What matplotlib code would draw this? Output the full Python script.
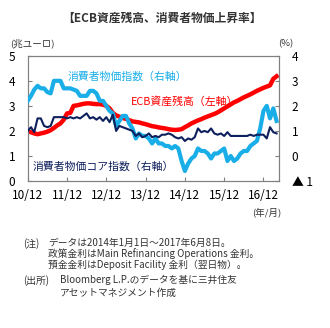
import matplotlib
matplotlib.use("Agg")
from matplotlib import pyplot as plt
import numpy as np

plt.rcParams['font.family'] = ['Noto Sans CJK JP', 'DejaVu Sans']

# 月次 (0 = 2011年1月)
ecb = [1.98, 1.95, 1.90, 1.87, 1.90, 1.93, 1.97, 2.03, 2.12, 2.22, 2.30, 2.45,
       2.70, 2.72, 3.00, 3.02, 3.05, 3.08, 3.10, 3.10, 3.08, 3.07, 3.07, 3.05,
       3.00, 2.90, 2.72, 2.62, 2.57, 2.52, 2.48, 2.43, 2.38, 2.36, 2.34, 2.30,
       2.27, 2.23, 2.19, 2.17, 2.14, 2.12, 2.10, 2.07, 2.05, 2.04, 2.05, 2.07,
       2.15, 2.22, 2.30, 2.36, 2.42, 2.47, 2.53, 2.58, 2.63, 2.68, 2.74, 2.82,
       2.90, 2.98, 3.06, 3.14, 3.20, 3.27, 3.34, 3.40, 3.46, 3.53, 3.60, 3.66,
       3.72, 3.77, 3.82, 4.08, 4.18]
cpi = [2.2, 2.4, 2.65, 2.8, 2.7, 2.7, 2.55, 2.5, 3.0, 3.0, 3.0, 2.7,
       2.7, 2.7, 2.65, 2.6, 2.4, 2.4, 2.4, 2.6, 2.6, 2.5, 2.2, 2.2,
       2.0, 1.8, 1.7, 1.2, 1.4, 1.6, 1.6, 1.3, 1.1, 0.7, 0.9, 0.8,
       0.8, 0.7, 0.5, 0.7, 0.5, 0.5, 0.4, 0.4, 0.3, 0.4, 0.3, -0.2,
       -0.6, -0.3, -0.1, 0.0, 0.3, 0.2, 0.2, 0.1, -0.1, 0.1, 0.1, 0.2,
       0.3, -0.2, 0.0, -0.2, -0.1, 0.1, 0.2, 0.2, 0.4, 0.5, 0.6, 1.1,
       1.8, 2.0, 1.5, 1.9, 1.4]
core = [1.0, 1.15, 0.95, 1.5, 1.5, 1.2, 1.15, 1.2, 1.55, 1.55, 1.55, 1.55,
        1.5, 1.55, 1.5, 1.55, 1.5, 1.6, 1.7, 1.5, 1.55, 1.45, 1.55, 1.4,
        1.55, 1.35, 1.65, 1.0, 1.2, 1.15, 1.1, 1.05, 1.0, 0.8, 0.9, 0.75,
        0.8, 0.9, 0.75, 0.8, 0.75, 0.85, 0.85, 0.9, 0.85, 0.75, 0.7, 0.75,
        0.6, 0.7, 0.65, 0.75, 1.1, 0.95, 1.0, 0.95, 1.1, 0.9, 0.85, 0.9,
        0.8, 0.95, 0.8, 0.8, 0.8, 0.8, 0.8, 0.8, 0.85, 0.8, 0.85, 0.85,
        0.85, 0.7, 1.15, 0.95, 0.9]
months = np.arange(len(ecb))

xtick_pos = [0, 12, 24, 36, 48, 60, 72]
xtick_labels = ['10/12', '11/12', '12/12', '13/12', '14/12', '15/12', '16/12']
left_ticks = [0, 1, 2, 3, 4, 5]
right_ticks = [-1, 0, 1, 2, 3, 4]
right_labels = ['▲ 1', '0', '1', '2', '3', '4']

fig = plt.figure(figsize=(3.30, 3.28), dpi=100)
ax = fig.add_axes([0.084, 0.448, 0.762, 0.382])
ax2 = ax.twinx()

ax.plot(months, ecb, color='#ff0000', lw=3.2, zorder=3)
ax2.plot(months, cpi, color='#1aaee8', lw=3.0, zorder=3)
ax2.plot(months, core, color='#0d1f5c', lw=1.5, zorder=4)

ax.set_xlim(0, 76.8)
ax.set_ylim(0, 5)
ax2.set_ylim(-1, 4)
ax.set_xticks(xtick_pos)
ax.set_xticklabels(xtick_labels, fontsize=8.5)
ax.set_yticks(left_ticks)
ax.set_yticklabels([str(v) for v in left_ticks], fontsize=8.5)
ax2.set_yticks(right_ticks)
ax2.set_yticklabels(right_labels, fontsize=8.5)

for a in (ax, ax2):
    for s in a.spines.values():
        s.set_color('#808080')
        s.set_linewidth(0.8)
ax.tick_params(axis='x', direction='in', length=3, color='#808080', pad=6)
ax.tick_params(axis='y', direction='in', length=3, color='#808080', pad=9)
ax2.tick_params(axis='y', direction='in', length=3, color='#808080', pad=9)

fig.text(0.49, 0.945, '【ECB資産残高、消費者物価上昇率】', fontsize=8.5,
         fontweight='bold', ha='center', va='center', color='#333333')
fig.text(0.03, 0.868, '(兆ユーロ)', fontsize=6.8, ha='left', va='center', color='#333333')
fig.text(0.842, 0.868, '(%)', fontsize=6.8, ha='left', va='center', color='#333333')
fig.text(0.765, 0.354, '(年/月)', fontsize=6.8, ha='left', va='center', color='#333333')

fig.text(0.206, 0.768, '消費者物価指数（右軸）', fontsize=7.8, color='#1aaee8', va='center')
fig.text(0.396, 0.692, 'ECB資産残高（左軸）', fontsize=7.8, color='#ff0000', va='center')
fig.text(0.10, 0.494, '消費者物価コア指数（右軸）', fontsize=7.8, color='#0d1f5c', va='center')

notes = [
    (0.07, 0.259, '(注)'),
    (0.145, 0.259, 'データは2014年1月1日～2017年6月8日。'),
    (0.145, 0.226, '政策金利はMain Refinancing Operations 金利。'),
    (0.145, 0.192, '預金金利はDeposit Facility 金利（翌日物）。'),
    (0.07, 0.146, '(出所)'),
    (0.182, 0.146, 'Bloomberg L.P.のデータを基に三井住友'),
    (0.182, 0.108, 'アセットマネジメント作成'),
]
for x, y, t in notes:
    fig.text(x, y, t, fontsize=7, ha='left', va='center', color='#333333')

fig.savefig('out.png', dpi=100)
